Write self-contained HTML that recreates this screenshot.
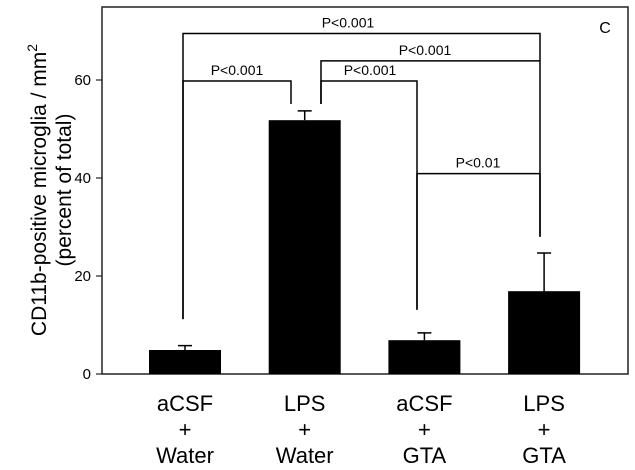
<!DOCTYPE html>
<html><head><meta charset="utf-8"><style>
body{margin:0;background:#fff}
svg{display:block;font-family:"Liberation Sans",Arial,sans-serif}
</style></head><body>
<svg id="chart" width="635" height="470">
<rect x="102" y="7" width="526" height="367" fill="none" stroke="#222" stroke-width="1.5"/>
<g id="yticks"></g>
<g id="bars"></g>
<g id="brackets"></g>
<g id="xlabels"></g>
<text x="605" y="33" font-size="16" text-anchor="middle">C</text>
<g transform="translate(46,190) rotate(-90)">
<text x="0" y="0" font-size="21" text-anchor="middle">CD11b-positive microglia / mm<tspan font-size="14" dy="-9">2</tspan></text>
<text x="0" y="25" font-size="21" text-anchor="middle">(percent of total)</text>
</g>
</svg>
<script>
const categories=[["aCSF","+","Water"],["LPS","+","Water"],["aCSF","+","GTA"],["LPS","+","GTA"]];
const values=[4.9,51.8,6.9,16.9];
const errors=[0.9,1.9,1.5,7.8];
const yTicks=[0,20,40,60];
// [leftGroup,rightGroup,barHeight,leftLegEnd,rightLegEnd]
const brackets=[[0,3,69.5,11.2,28],[1,3,63.9,55.1,63.9],[1,2,59.8,55.1,13.1],[0,1,59.8,11.2,55.1],[2,3,40.9,13.1,28]];
const bracketLabels=["P<0.001","P<0.001","P<0.001","P<0.001","P<0.01"];
const NS="http://www.w3.org/2000/svg";
const y0=374,k=4.9;
function Y(v){return y0-v*k;}
function X(i){return 185+i*119.7;}
function mk(tag,attrs,parent){const e=document.createElementNS(NS,tag);for(const a in attrs)e.setAttribute(a,attrs[a]);parent.appendChild(e);return e;}
const gy=document.getElementById('yticks');
yTicks.forEach(t=>{
 const l=mk('line',{x1:96,x2:102,y1:Y(t),y2:Y(t),stroke:'#222','stroke-width':1.2},gy);
 
 
 const tx=mk('text',{x:91,y:Y(t)+5,'font-size':15,'text-anchor':'end'},gy);tx.textContent=t;
 
 
});
const gb=document.getElementById('bars');
values.forEach((v,i)=>{
 const r=mk('rect',{x:X(i)-36,y:Y(v),width:72,height:y0-Y(v),fill:'#000'},gb);
 
 
 const e=mk('path',{d:`M${X(i)},${Y(v)}V${Y(v+errors[i])}M${X(i)-7},${Y(v+errors[i])}H${X(i)+7}`,stroke:'#000','stroke-width':1.5,fill:'none'},gb);
 
 
});
const xl=[183,321,321,183,417], xr=[540,540,417,291,540], lx=[348,425,370,237,478];
const gk=document.getElementById('brackets');
brackets.forEach((b,j)=>{
 const xa=xl[j],xb=xr[j];
 const yb=Y(b[2]);
 const p=mk('path',{d:`M${xa},${Y(b[3])}V${yb}H${xb}V${Y(b[4])}`,stroke:'#000','stroke-width':1.5,fill:'none'},gk);
 
 
 const t=mk('text',{x:lx[j],y:yb-6,'font-size':14,'text-anchor':'middle'},gk);
 t.textContent=bracketLabels[j];
 
 
});
const gx=document.getElementById('xlabels');
categories.forEach((c,i)=>{
 c.forEach((s,r)=>{
  const t=mk('text',{x:X(i),y:411+r*26,'font-size':22,'text-anchor':'middle'},gx);
  t.textContent=s;
  
  
 });
});
</script>
</body></html>
